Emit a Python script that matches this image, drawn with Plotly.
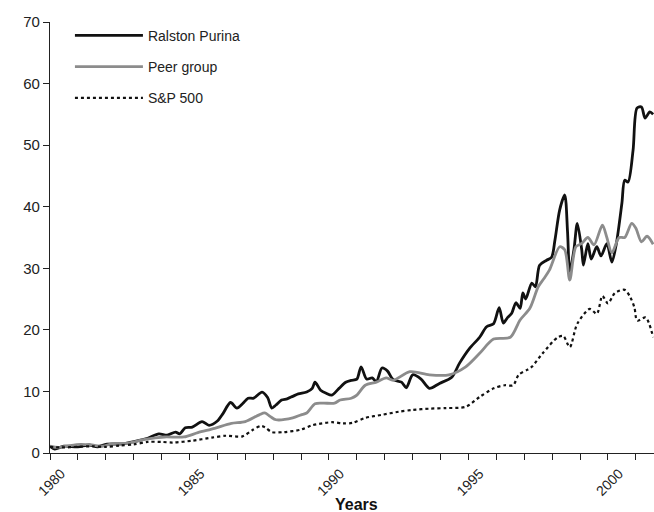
import plotly.graph_objects as go

# ---- data (years as decimal, index values) ----
ralston_x = [1980.0, 1980.17, 1980.5, 1981.0, 1981.4, 1981.7, 1982.0, 1982.6, 1983.05, 1983.5,
             1983.9, 1984.2, 1984.5, 1984.65, 1984.85, 1985.1, 1985.45, 1985.7, 1986.0, 1986.2,
             1986.47, 1986.7, 1986.9, 1987.1, 1987.3, 1987.6, 1987.8, 1987.95, 1988.1, 1988.3,
             1988.5, 1988.7, 1988.9, 1989.2, 1989.4, 1989.5, 1989.7, 1989.9, 1990.1, 1990.36,
             1990.6, 1990.8, 1991.0, 1991.15, 1991.35, 1991.55, 1991.7, 1991.9, 1992.1, 1992.3,
             1992.6, 1992.77, 1993.0, 1993.3, 1993.6, 1993.96, 1994.4, 1994.68, 1995.04, 1995.4,
             1995.65, 1995.9, 1996.1, 1996.25, 1996.4, 1996.55, 1996.7, 1996.85, 1996.95, 1997.05,
             1997.27, 1997.4, 1997.55, 1997.8, 1997.98, 1998.1, 1998.27, 1998.45, 1998.55, 1998.63,
             1998.78, 1998.9, 1999.06, 1999.12, 1999.28, 1999.4, 1999.6, 1999.75, 1999.96, 2000.14,
             2000.3, 2000.5, 2000.6, 2000.72, 2000.9, 2001.04, 2001.2, 2001.33, 2001.5, 2001.62]
ralston_y = [1.1, 0.65, 1.1, 1.0, 1.3, 1.0, 1.4, 1.5, 1.9, 2.4,
             3.1, 2.9, 3.4, 3.1, 4.1, 4.2, 5.1, 4.5, 5.2, 6.4,
             8.2, 7.3, 8.0, 8.9, 8.9, 9.9, 9.0, 7.3, 7.8, 8.6,
             8.8, 9.2, 9.6, 9.9, 10.5, 11.5, 10.2, 9.7, 9.4, 10.5,
             11.5, 11.8, 12.0, 14.0, 12.0, 12.2, 11.6, 13.8, 13.3, 11.9,
             11.5, 10.6, 12.7, 12.0, 10.5, 11.3, 12.3, 14.6, 17.0, 18.8,
             20.5, 21.0, 23.6, 21.1, 22.0, 22.7, 24.4, 23.5, 26.0, 25.0,
             27.6, 27.0, 30.5, 31.3, 31.8, 34.6, 39.5, 41.9, 36.0, 29.5,
             33.0, 37.3, 33.0, 30.5, 34.0, 31.5, 33.5, 32.0, 34.0, 31.0,
             34.0, 40.6, 44.3, 44.0, 49.2, 56.0, 56.2, 54.4, 55.4, 55.0]

peer_x = [1980.0, 1980.3, 1980.7, 1981.1, 1981.5, 1981.9, 1982.2, 1982.8, 1983.4, 1984.1,
          1984.8, 1985.3, 1985.9, 1986.5, 1987.0, 1987.5, 1987.7, 1987.9, 1988.1, 1988.7,
          1989.0, 1989.2, 1989.5, 1989.8, 1990.2, 1990.4, 1990.8, 1991.0, 1991.3, 1991.7,
          1992.05, 1992.3, 1992.9, 1993.6, 1994.3, 1994.9, 1995.4, 1995.9, 1996.5, 1996.85,
          1997.2, 1997.5, 1997.7, 1997.9, 1998.27, 1998.45, 1998.63, 1998.85, 1999.05, 1999.28,
          1999.5, 1999.8, 1999.96, 2000.14, 2000.4, 2000.6, 2000.85, 2001.0, 2001.2, 2001.4,
          2001.62]
peer_y = [1.1, 0.9, 1.2, 1.4, 1.3, 1.1, 1.5, 1.6, 2.2, 2.6,
          2.6, 3.3, 4.0, 4.8, 5.1, 6.2, 6.5, 5.9, 5.4, 5.7,
          6.2, 6.5, 8.0, 8.1, 8.1, 8.6, 8.9, 9.4, 11.0, 11.5,
          12.2, 11.8, 13.2, 12.7, 12.7, 14.0, 16.2, 18.5, 18.8, 21.6,
          23.5, 27.0, 28.3, 29.7, 33.5, 33.0, 28.1, 33.5, 34.0, 35.0,
          33.8, 37.0, 35.0, 32.5, 35.0, 35.0, 37.3, 36.5, 34.3, 35.2,
          33.9]

sp_x = [1980.0, 1980.4, 1981.0, 1981.5, 1982.0, 1982.5, 1983.0, 1983.5, 1984.0, 1984.4,
        1985.1, 1985.8, 1986.3, 1986.9, 1987.25, 1987.55, 1987.7, 1987.95, 1988.4, 1989.0,
        1989.4, 1990.1, 1990.5, 1990.85, 1991.3, 1991.9, 1992.5, 1993.0, 1993.6, 1994.2,
        1994.9, 1995.4, 1995.9, 1996.3, 1996.6, 1996.8, 1997.1, 1997.27, 1997.66, 1998.2,
        1998.4, 1998.63, 1998.9, 1999.35, 1999.6, 1999.8, 2000.0, 2000.25, 2000.6, 2000.8,
        2000.95, 2001.05, 2001.35, 2001.62]
sp_y = [1.0, 0.9, 1.0, 1.1, 1.0, 1.2, 1.4, 1.8, 1.8, 1.7,
        2.0, 2.5, 2.8, 2.7, 3.7, 4.4, 4.2, 3.4, 3.4, 3.8,
        4.5, 5.0, 4.8, 4.9, 5.7, 6.2, 6.7, 7.0, 7.2, 7.3,
        7.5, 9.1, 10.5, 11.0, 11.0, 12.7, 13.5, 14.0, 16.2, 18.8,
        19.0, 17.2, 21.0, 23.4, 22.6, 25.5, 24.3, 26.0, 26.5, 25.3,
        23.6, 21.5, 22.0, 18.8]

series_names = ["Ralston Purina", "Peer group", "S&P 500"]
year_ticks = list(range(1980, 2002))
year_labels = [str(y) if y % 5 == 0 else "" for y in year_ticks]
y_ticks = [0, 10, 20, 30, 40, 50, 60, 70]
x_title = "Years"

FONT = "Liberation Sans, Arial, Helvetica, sans-serif"

fig = go.Figure()
fig.add_trace(go.Scatter(x=ralston_x, y=ralston_y, name=series_names[0], mode="lines",
                         line=dict(color="#111111", width=2.8, shape="spline", smoothing=0.8),
                         legendgroup="a"))
fig.add_trace(go.Scatter(x=peer_x, y=peer_y, name=series_names[1], mode="lines",
                         line=dict(color="#8c8c8c", width=2.8, shape="spline", smoothing=0.8),
                         legendgroup="b"))
fig.add_trace(go.Scatter(x=sp_x, y=sp_y, name=series_names[2], mode="lines",
                         line=dict(color="#111111", width=2.2, dash="dot", shape="spline", smoothing=0.8),
                         legendgroup="c"))

fig.update_layout(
    width=654, height=512,
    margin=dict(l=50, r=0, t=22, b=59),
    paper_bgcolor="white", plot_bgcolor="white",
    font=dict(family=FONT, color="#222222", size=14),
    showlegend=True,
    legend=dict(x=0.033, y=1.005, xanchor="left", yanchor="top",
                bgcolor="rgba(0,0,0,0)", traceorder="grouped", tracegroupgap=10,
                itemwidth=68, font=dict(size=14, family=FONT, color="#222222")),
    xaxis=dict(range=[1980, 2001.65], tickvals=year_ticks, ticktext=year_labels,
               tickangle=-45, ticks="outside", ticklen=6, tickcolor="#222222",
               ticklabelshift=11,
               showline=True, linecolor="#222222", linewidth=1.2, showgrid=False,
               zeroline=False, tickfont=dict(size=14)),
    yaxis=dict(range=[0, 70], tickvals=y_ticks, ticks="outside", ticklen=6,
               tickcolor="#222222", showline=True, linecolor="#222222", linewidth=1.2,
               showgrid=False, zeroline=False, tickfont=dict(size=15)),
    annotations=[dict(text="<b>" + x_title + "</b>", xref="paper", yref="paper",
                      x=0.508, y=-0.12, xanchor="center", yanchor="middle",
                      showarrow=False, font=dict(size=16, color="#111111", family=FONT))],
)

fig.write_html(
    "out.html",
    config={"displayModeBar": False},
    post_script="document.body.style.margin='0';document.body.style.overflow='hidden';",
)
